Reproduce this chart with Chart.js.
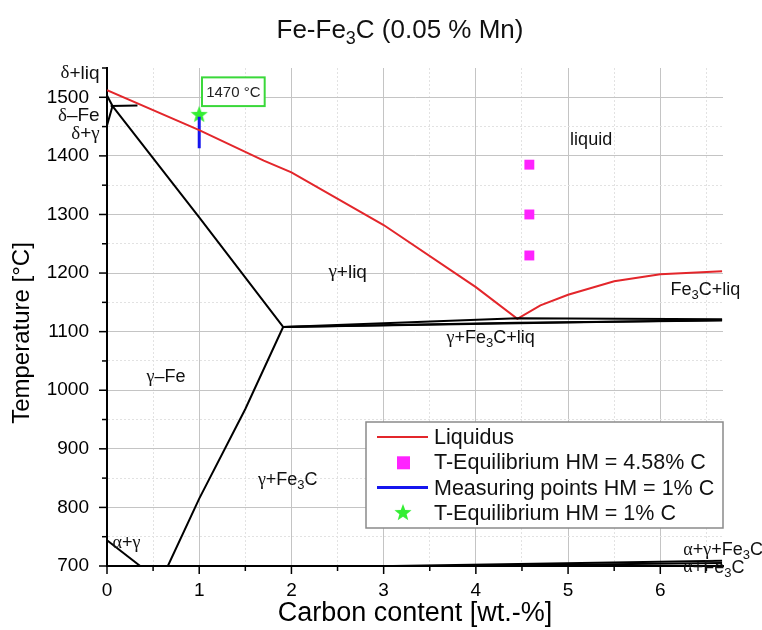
<!DOCTYPE html>
<html>
<head>
<meta charset="utf-8">
<script src="https://cdn.jsdelivr.net/npm/chart.js@4.4.0/dist/chart.umd.min.js"></script>
<style>
  html, body { margin: 0; padding: 0; background: #fff; }
</style>
</head>
<body>
<canvas id="chart" width="762" height="630"></canvas>
<script>
// tick labels
const xTicks = [0, 1, 2, 3, 4, 5, 6]
const yTicks = [700, 800, 900, 1000, 1100, 1200, 1300, 1400, 1500]

// liquidus (red)
const liquidusC = [0, 1, 1.7, 2, 3, 4, 4.45, 4.7, 5, 5.5, 6, 6.67]
const liquidusT = [1512, 1444, 1392, 1372, 1282, 1176, 1122, 1145, 1163, 1186, 1198, 1203]

// equilibrium temperatures, HM 4.58 % C
const hmC = [4.58, 4.58, 4.58]
const hmT = [1385, 1300, 1230]

// measuring points, HM 1 % C
const measC = [1, 1]
const measT = [1467, 1413]

// equilibrium temperature, HM 1 % C
const eqC = [1]
const eqT = [1470]

// phase boundaries (black)
const deltaUpperC = [0, 0.06]
const deltaUpperT = [1503, 1485]
const deltaLowerC = [0, 0.06]
const deltaLowerT = [1452, 1485]
const peritecticC = [0.04, 0.33]
const peritecticT = [1485, 1486]
const solidusC = [0.06, 1, 1.91]
const solidusT = [1485, 1295, 1108]
const acmC = [0.66, 1, 1.5, 1.91]
const acmT = [700, 815, 968, 1108]
const eutectic1C = [1.91, 4.45, 6.67]
const eutectic1T = [1108, 1123, 1121]
const eutectic2C = [1.91, 6.67]
const eutectic2T = [1108, 1120]
const eutectic3C = [1.91, 4.45, 6.67]
const eutectic3T = [1108, 1115, 1119]
const a3C = [0, 0.36]
const a3T = [744, 700]
const eutectoid1C = [3.1, 6.67]
const eutectoid1T = [700, 709]
const eutectoid2C = [3.7, 6.67]
const eutectoid2T = [700, 705]

const zip = (xs, ys) => xs.map((x, i) => ({ x, y: ys[i] }))

function starCanvas(r, color) {
  const c = document.createElement('canvas')
  c.width = c.height = 2 * r + 2
  const g = c.getContext('2d')
  g.fillStyle = color
  g.beginPath()
  for (let i = 0; i < 10; i++) {
    const a = -Math.PI / 2 + i * Math.PI / 5
    const rr = i % 2 ? r * 0.42 : r
    g.lineTo(r + 1 + rr * Math.cos(a), r + 1 + rr * Math.sin(a))
  }
  g.closePath()
  g.fill()
  return c
}

const SANS = '"Liberation Sans", Arial, sans-serif'
const SERIF = '"Liberation Serif", "Times New Roman", serif'

// text with greek in serif and "_3" as subscript
function drawRich(ctx, text, x, y, size, align) {
  const parts = []
  for (let i = 0; i < text.length; i++) {
    const ch = text[i]
    if (ch === '_') { parts.push({ t: text[i + 1], sub: true }); i++; continue }
    const greek = /[\u03b1-\u03c9]/.test(ch)
    const last = parts[parts.length - 1]
    if (last && !last.sub && last.greek === greek) last.t += ch
    else parts.push({ t: ch, greek, sub: false })
  }
  const fontOf = p => p.sub ? Math.round(size * 0.7) + 'px ' + SANS
    : (p.greek ? size + 'px ' + SERIF : size + 'px ' + SANS)
  let w = 0
  parts.forEach(p => { ctx.font = fontOf(p); p.w = ctx.measureText(p.t).width; w += p.w })
  let cx = align === 'center' ? x - w / 2 : align === 'right' ? x - w : x
  ctx.textAlign = 'left'
  ctx.textBaseline = 'middle'
  parts.forEach(p => {
    ctx.font = fontOf(p)
    ctx.fillText(p.t, cx, p.sub ? y + size * 0.3 : y)
    cx += p.w
  })
}

const regionLabels = [
  { text: 'liquid', c: 5.25, t: 1427, size: 18, align: 'center' },
  { text: 'γ+liq', c: 2.61, t: 1201, size: 19, align: 'center' },
  { text: 'γ+Fe_3C+liq', c: 4.16, t: 1089, size: 18, align: 'center' },
  { text: 'Fe_3C+liq', c: 6.49, t: 1171, size: 18, align: 'center' },
  { text: 'γ–Fe', c: 0.64, t: 1022, size: 18, align: 'center' },
  { text: 'γ+Fe_3C', c: 1.96, t: 846, size: 18, align: 'center' },
  { text: 'α+γ', c: 0.06, t: 739, size: 18, align: 'left' },
  { text: 'α+γ+Fe_3C', c: 6.25, t: 727, size: 18, align: 'left' },
  { text: 'α+Fe_3C', c: 6.25, t: 697, size: 18, align: 'left' },
  { text: 'δ+liq', c: -0.08, t: 1541, size: 19, align: 'right' },
  { text: 'δ–Fe', c: -0.08, t: 1468, size: 19, align: 'right' },
  { text: 'δ+γ', c: -0.08, t: 1437, size: 19, align: 'right' }
]

const tempBox = { text: '1470 °C', c0: 1.03, c1: 1.71, t0: 1534, t1: 1485 }

const phasePlugin = {
  id: 'phase',
  afterDraw(chart) {
    const { ctx, scales: { x, y } } = chart
    ctx.save()
    // tick marks, major long and minor short
    ctx.strokeStyle = '#000'
    ctx.lineWidth = 1.5
    x.ticks.forEach(tk => {
      const px = x.getPixelForValue(tk.value)
      const len = xTicks.includes(tk.value) ? 8 : 5
      ctx.beginPath(); ctx.moveTo(px, y.bottom); ctx.lineTo(px, y.bottom + len); ctx.stroke()
    })
    y.ticks.forEach(tk => {
      const py = y.getPixelForValue(tk.value)
      const len = yTicks.includes(tk.value) ? 8 : 5
      ctx.beginPath(); ctx.moveTo(x.left, py); ctx.lineTo(x.left - len, py); ctx.stroke()
    })

    ctx.fillStyle = '#111'
    regionLabels.forEach(l => drawRich(ctx, l.text, x.getPixelForValue(l.c), y.getPixelForValue(l.t), l.size, l.align))

    // 1470 °C annotation box
    const bx0 = x.getPixelForValue(tempBox.c0), bx1 = x.getPixelForValue(tempBox.c1)
    const by0 = y.getPixelForValue(tempBox.t0), by1 = y.getPixelForValue(tempBox.t1)
    ctx.fillStyle = '#fff'
    ctx.fillRect(bx0, by0, bx1 - bx0, by1 - by0)
    ctx.strokeStyle = '#3ad83a'
    ctx.lineWidth = 2
    ctx.strokeRect(bx0, by0, bx1 - bx0, by1 - by0)
    ctx.fillStyle = '#222'
    ctx.font = '15px ' + SANS
    ctx.textAlign = 'center'
    ctx.textBaseline = 'middle'
    ctx.fillText(tempBox.text, (bx0 + bx1) / 2, (by0 + by1) / 2 + 1)

    // title
    ctx.fillStyle = '#111'
    drawRich(ctx, 'Fe-Fe_3C (0.05 % Mn)', 400, 31, 26, 'center')

    // y axis title, centred a little below the plot middle as in the original
    ctx.save()
    ctx.translate(22, 333)
    ctx.rotate(-Math.PI / 2)
    ctx.fillStyle = '#000'
    ctx.font = '24px ' + SANS
    ctx.textAlign = 'center'
    ctx.textBaseline = 'middle'
    ctx.fillText('Temperature [°C]', 0, 0)
    ctx.restore()

    // legend
    const items = chart.data.datasets.filter(d => d.label && !d.label.startsWith('_'))
    const lx = 366, ly = 422, lw = 357, lh = 106, row = 25.3
    ctx.fillStyle = '#fff'
    ctx.fillRect(lx, ly, lw, lh)
    ctx.strokeStyle = '#8a8a8a'
    ctx.lineWidth = 1.5
    ctx.strokeRect(lx, ly, lw, lh)
    items.forEach((d, i) => {
      const cy = ly + 15 + i * row
      if (d.showLine) {
        ctx.strokeStyle = d.borderColor
        ctx.lineWidth = d.borderWidth
        ctx.beginPath(); ctx.moveTo(lx + 11, cy); ctx.lineTo(lx + 62, cy); ctx.stroke()
      } else if (d.pointStyle === 'rect') {
        ctx.fillStyle = d.backgroundColor
        ctx.fillRect(lx + 31, cy - 6, 13, 13)
      } else {
        const img = d.pointStyle
        ctx.drawImage(img, lx + 37 - img.width / 2, cy - img.height / 2)
      }
      ctx.fillStyle = '#111'
      ctx.font = '21.5px ' + SANS
      ctx.textAlign = 'left'
      ctx.textBaseline = 'middle'
      ctx.fillText(d.label, lx + 68, cy + 1)
    })
    ctx.restore()
  }
}

const black = (name, c, t) => ({
  label: '_' + name, data: zip(c, t), showLine: true,
  borderColor: '#000', borderWidth: 2, pointRadius: 0
})

const star = starCanvas(9, '#33ee33')

const datasets = [
  black('deltaUpper', deltaUpperC, deltaUpperT),
  black('deltaLower', deltaLowerC, deltaLowerT),
  black('peritectic', peritecticC, peritecticT),
  black('solidus', solidusC, solidusT),
  black('acm', acmC, acmT),
  black('eutectic1', eutectic1C, eutectic1T),
  black('eutectic2', eutectic2C, eutectic2T),
  black('eutectic3', eutectic3C, eutectic3T),
  black('a3', a3C, a3T),
  black('eutectoid1', eutectoid1C, eutectoid1T),
  black('eutectoid2', eutectoid2C, eutectoid2T),
  {
    label: 'Liquidus', data: zip(liquidusC, liquidusT), showLine: true,
    borderColor: '#e3262b', borderWidth: 2, pointRadius: 0
  },
  {
    label: 'T-Equilibrium HM = 4.58% C', data: zip(hmC, hmT), showLine: false,
    pointStyle: 'rect', pointRadius: 7, backgroundColor: '#ff22ff', borderColor: '#ff22ff', borderWidth: 0
  },
  {
    label: 'Measuring points HM = 1% C', data: zip(measC, measT), showLine: true,
    borderColor: '#1515ee', borderWidth: 3, pointRadius: 0
  },
  {
    label: 'T-Equilibrium HM = 1% C', data: zip(eqC, eqT), showLine: false,
    pointStyle: star, pointRadius: 9
  }
]

const xMinor = xTicks.map(v => v + 0.5)
const yMinor = yTicks.map(v => v + 50)

new Chart(document.getElementById('chart'), {
  type: 'scatter',
  data: { datasets },
  plugins: [phasePlugin],
  options: {
    responsive: false,
    animation: false,
    events: [],
    layout: { padding: { top: 68, right: 39, left: 0, bottom: 0 } },
    plugins: { legend: { display: false }, tooltip: { enabled: false } },
    scales: {
      x: {
        type: 'linear', min: 0, max: 6.68,
        afterBuildTicks: s => { s.ticks = xTicks.concat(xMinor).sort((a, b) => a - b).map(v => ({ value: v })) },
        afterFit: s => { s.height = 64 },
        ticks: {
          padding: 13, color: '#000', font: { size: 19, family: SANS },
          maxRotation: 0, autoSkip: false,
          callback: v => xTicks.includes(v) ? String(v) : ''
        },
        grid: {
          drawTicks: false,
          color: c => c.tick && xTicks.includes(c.tick.value) ? '#c4c4c4' : '#e2e2e2',
          lineWidth: 1
        },
        border: { color: '#000', width: 2, dash: c => c.tick && !xTicks.includes(c.tick.value) ? [2, 2] : [] },
        title: {
          display: true, text: 'Carbon content [wt.-%]', color: '#000',
          font: { size: 27, family: SANS }, padding: { top: 0, bottom: 0 }
        }
      },
      y: {
        type: 'linear', min: 700, max: 1550,
        afterBuildTicks: s => { s.ticks = yTicks.concat(yMinor).sort((a, b) => a - b).map(v => ({ value: v })) },
        afterFit: s => { s.width = 107 },
        ticks: {
          padding: 18, color: '#000', font: { size: 19, family: SANS },
          autoSkip: false,
          callback: v => yTicks.includes(v) ? String(v) : ''
        },
        grid: {
          drawTicks: false,
          color: c => {
            if (!c.tick) return '#e2e2e2'
            if (c.tick.value === 1550) return 'rgba(0,0,0,0)'
            return yTicks.includes(c.tick.value) ? '#c4c4c4' : '#e2e2e2'
          },
          lineWidth: 1
        },
        border: { color: '#000', width: 2, dash: c => c.tick && !yTicks.includes(c.tick.value) ? [2, 2] : [] },
        title: { display: false }
      }
    }
  }
})
</script>
</body>
</html>
